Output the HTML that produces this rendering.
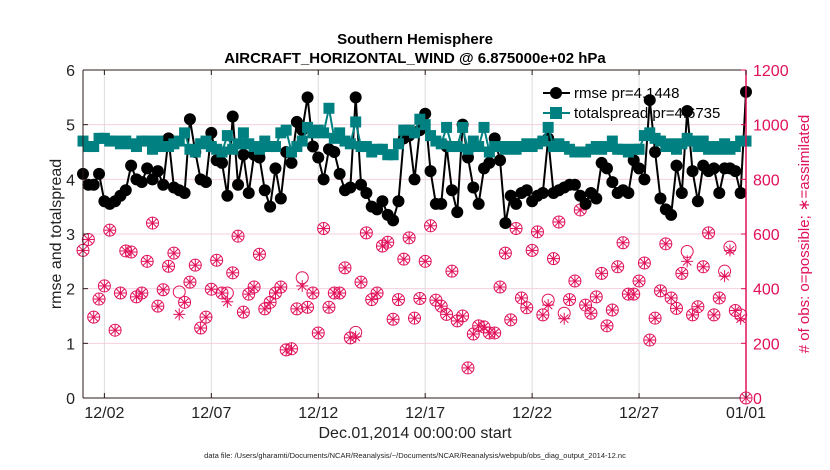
<!DOCTYPE html>
<html><head><meta charset="utf-8"><style>
body{margin:0;background:#fff;}
svg{display:block;font-family:"Liberation Sans",Arial,sans-serif;}
</style></head><body>
<svg id="chart" width="830" height="470" viewBox="0 0 830 470">
<g id="bg"></g><g id="legend"></g><g id="marks"></g><g id="fg"></g>
</svg>
<script>
const rmse=[4.1,3.9,3.9,4.1, 3.6,3.55,3.6,3.7, 3.8,4.25,4.0,3.95, 4.2,4.0,4.15,3.9, 4.75,3.85,3.8,3.75, 5.1,4.5,4.0,3.95, 4.85,4.35,4.3,3.7, 5.15,3.9,4.45,3.75, 4.45,4.4,3.8,3.5, 4.2,3.65,4.5,4.3, 5.05,4.9,5.5,4.6, 4.4,4.0,4.55,4.5, 4.1,3.8,3.85,5.5, 3.9,3.75,3.5,3.45, 3.6,3.35,3.25,3.6, 4.75,4.8,4.0,4.9, 5.2,4.15,3.55,3.55, 4.6,3.8,3.4,5.0, 4.4,3.85,3.55,4.2, 4.3,4.75,4.35,3.2, 3.7,3.55,3.75,3.8, 3.6,3.7,3.75,4.75, 3.75,3.8,3.85,3.9, 3.9,3.7,3.55,3.75, 3.65,4.3,4.2,3.95, 3.75,3.8,3.75,4.35, 4.2,4.0,5.45,4.5, 3.65,3.45,3.35,4.25, 3.75,5.25,4.15,3.6, 4.25,4.15,4.2,3.75, 4.2,4.2,4.15,3.75,5.6];
const spread=[4.7,4.6,4.6,4.75, 4.75,4.7,4.7,4.65, 4.7,4.65,4.6,4.7, 4.7,4.55,4.7,4.6, 4.6,4.65,4.7,4.85, 4.55,4.5,4.65,4.7, 4.6,4.55,4.5,4.8, 4.55,4.65,4.85,4.65, 4.6,4.55,4.7,4.6, 4.6,4.85,4.9,4.5, 4.6,4.7,4.95,4.85, 4.9,4.85,5.3,4.75, 4.85,4.7,4.65,5.05, 4.6,4.6,4.5,4.55, 4.55,4.45,4.45,4.65, 4.9,4.9,4.85,5.1, 5.0,4.8,4.7,4.65, 4.95,4.6,4.6,4.95, 4.55,4.7,4.6,4.95, 4.5,4.6,4.6,4.55, 4.6,4.55,4.6,4.65, 4.6,4.65,4.7,4.95, 4.6,4.65,4.6,4.55, 4.5,4.5,4.5,4.55, 4.6,4.55,4.6,4.7, 4.55,4.55,4.5,4.55, 4.55,4.8,4.85,4.75, 4.7,4.6,4.65,4.55, 4.65,4.75,4.7,4.6, 4.7,4.55,4.6,4.55, 4.65,4.55,4.6,4.7,4.7];
const nPossible=[540,580,296,362,410,614,248,384,538,534,370,384,500,640,336,396,482,530,388,350,424, 486,256,296,398,504,384,384,458,592,314,380,406,526,326,350,384,406,176,180,326, 440,332,384,238,620,332,384,384,476,220,240,424,604,360,384,556,570,288,360,508,586,292, 364,500,630,358,336,306,464,282,300,110,234,264,260,238,238,406,530, 286,620,366,330,540,608,304,358,510,644,310,360,428,688,340,310,370,456,264,322,480,568,380,380,428,494,212,292,392,564,366,328,456,536,304,334,480,604,304,366,464,552,320,304,0];
const nAssim=[540,580,296,362,410,614,248,384,538,534,370,384,500,640,336,396,482,530,306,350,424, 486,256,296,398,504,384,352,458,592,314,380,406,526,326,350,384,406,176,180,326, 410,332,384,238,620,332,384,384,476,220,224,424,604,360,384,556,570,288,360,508,586,292, 364,500,630,358,336,306,464,282,300,110,234,264,260,238,238,406,530, 286,620,366,330,540,608,304,340,510,644,290,360,428,688,340,310,370,456,264,322,480,568,380,380,428,494,212,292,392,564,366,328,456,500,304,334,480,604,304,366,446,540,320,290,0];
const xTickLabels=["12/02","12/07","12/12","12/17","12/22","12/27","01/01"];
const xTickDays=[1,6,11,16,21,26,31];
const yLeftTicks=[0,1,2,3,4,5,6];
const yRightTicks=[0,200,400,600,800,1000,1200];

const L=83,R=746,T=70,B=398;
const NS="http://www.w3.org/2000/svg";
const xDay=d=>L+(R-L)*d/31;
const xIdx=i=>xDay(i*0.25);
const yL=v=>B-(B-T)*v/6;
const yR=v=>B-(B-T)*v/1200;
function mk(tag,attrs,parent,text){const e=document.createElementNS(NS,tag);for(const k in attrs)e.setAttribute(k,attrs[k]);if(text!==undefined)e.textContent=text;parent.appendChild(e);return e;}
const bg=document.getElementById('bg'),lg=document.getElementById('legend'),mg=document.getElementById('marks'),fg=document.getElementById('fg');

yRightTicks.slice(1,-1).forEach(v=>{const e=mk('line',{x1:L,x2:R,y1:yR(v),y2:yR(v),stroke:'#f5cfe0','stroke-width':1},bg);

});
xTickDays.forEach(d=>{const e=mk('line',{x1:xDay(d),x2:xDay(d),y1:T,y2:B,stroke:'#dcdcdc','stroke-width':1},bg);

});

const lgBox=mk('g',{},lg);


mk('line',{x1:543,x2:570,y1:93,y2:93,stroke:'#000','stroke-width':2},lgBox);
mk('circle',{cx:556,cy:93,r:6,fill:'#000'},lgBox);
const t1=mk('text',{x:574,y:98,'font-size':15,fill:'#000'},lgBox,'rmse pr=4.1448');


mk('line',{x1:543,x2:570,y1:113,y2:113,stroke:'#008080','stroke-width':2},lgBox);
mk('rect',{x:550,y:107,width:12,height:12,fill:'#008080'},lgBox);
const t2=mk('text',{x:574,y:118,'font-size':15,fill:'#000'},lgBox,'totalspread pr=4.6735');



const pink='#e0105a';
nPossible.forEach((v,i)=>{const c=mk('circle',{cx:xIdx(i),cy:yR(v),r:6,fill:'none',stroke:pink,'stroke-width':1},mg);

});
nAssim.forEach((v,i)=>{const x=xIdx(i),y=yR(v),s=6;
const g=mk('g',{stroke:pink,'stroke-width':1},mg);


mk('line',{x1:x,x2:x,y1:y-s,y2:y+s},g);mk('line',{x1:x-s,x2:x+s,y1:y,y2:y},g);
mk('line',{x1:x-s*0.7,x2:x+s*0.7,y1:y-s*0.7,y2:y+s*0.7},g);mk('line',{x1:x-s*0.7,x2:x+s*0.7,y1:y+s*0.7,y2:y-s*0.7},g);});

const rl=mk('polyline',{points:rmse.map((v,i)=>xIdx(i)+','+yL(v)).join(' '),fill:'none',stroke:'#000','stroke-width':2},mg);


rmse.forEach((v,i)=>{const c=mk('circle',{cx:xIdx(i),cy:yL(v),r:6,fill:'#000'},mg);

});
const sl=mk('polyline',{points:spread.map((v,i)=>xIdx(i)+','+yL(v)).join(' '),fill:'none',stroke:'#008080','stroke-width':2},mg);


spread.forEach((v,i)=>{const r=mk('rect',{x:xIdx(i)-5.5,y:yL(v)-5.5,width:11,height:11,fill:'#008080'},mg);

});

const ax=mk('g',{},fg);


mk('line',{x1:L,x2:R,y1:T,y2:T,stroke:'#2b1a1a','stroke-width':1},ax);
mk('line',{x1:L,x2:R,y1:B,y2:B,stroke:'#2b1a1a','stroke-width':1},ax);
mk('line',{x1:L,x2:L,y1:T,y2:B,stroke:'#2b1a1a','stroke-width':1},ax);
mk('line',{x1:R,x2:R,y1:T,y2:B,stroke:pink,'stroke-width':1.5},ax);
yLeftTicks.forEach(v=>{mk('line',{x1:L,x2:L+5,y1:yL(v),y2:yL(v),stroke:'#2b1a1a'},ax);
const t=mk('text',{x:L-8,y:yL(v)+6,'font-size':16,'text-anchor':'end',fill:'#222'},ax,String(v));

});
yRightTicks.forEach(v=>{mk('line',{x1:R-5,x2:R,y1:yR(v),y2:yR(v),stroke:pink},ax);
const t=mk('text',{x:R+7,y:yR(v)+6,'font-size':16,fill:pink},ax,String(v));

});
xTickDays.forEach((d,i)=>{mk('line',{x1:xDay(d),x2:xDay(d),y1:B,y2:B-5,stroke:'#2b1a1a'},ax);
mk('line',{x1:xDay(d),x2:xDay(d),y1:T,y2:T+5,stroke:'#2b1a1a'},ax);
const t=mk('text',{x:xDay(d),y:B+20,'font-size':16,'text-anchor':'middle',fill:'#222'},ax,xTickLabels[i]);

});
</script>
<div style="position:absolute;left:0;top:0;width:830px;height:470px;pointer-events:none;font-family:'Liberation Sans',Arial,sans-serif;">
<div style="position:absolute;left:0;width:830px;top:30px;text-align:center;font-weight:bold;font-size:15px;line-height:19px;color:#000;">Southern Hemisphere<br>AIRCRAFT_HORIZONTAL_WIND @ 6.875000e+02 hPa</div>
<div style="position:absolute;left:0;width:830px;top:425px;text-align:center;font-size:16px;color:#222;">Dec.01,2014 00:00:00 start</div>
<div style="position:absolute;left:0;width:830px;top:451px;text-align:center;font-size:7.5px;color:#222;padding-right:10px;">data file: /Users/gharamti/Documents/NCAR/Reanalysis/~/Documents/NCAR/Reanalysis/webpub/obs_diag_output_2014-12.nc</div>
<div style="position:absolute;left:57px;top:234px;transform:translate(-50%,-50%) rotate(-90deg);font-size:16px;color:#222;white-space:nowrap;">rmse and totalspread</div>
<div style="position:absolute;left:804px;top:234px;transform:translate(-50%,-50%) rotate(-90deg);font-size:15px;color:#e0105a;white-space:nowrap;"># of obs: o=possible; &#8727;=assimilated</div>
</div>
</body></html>
